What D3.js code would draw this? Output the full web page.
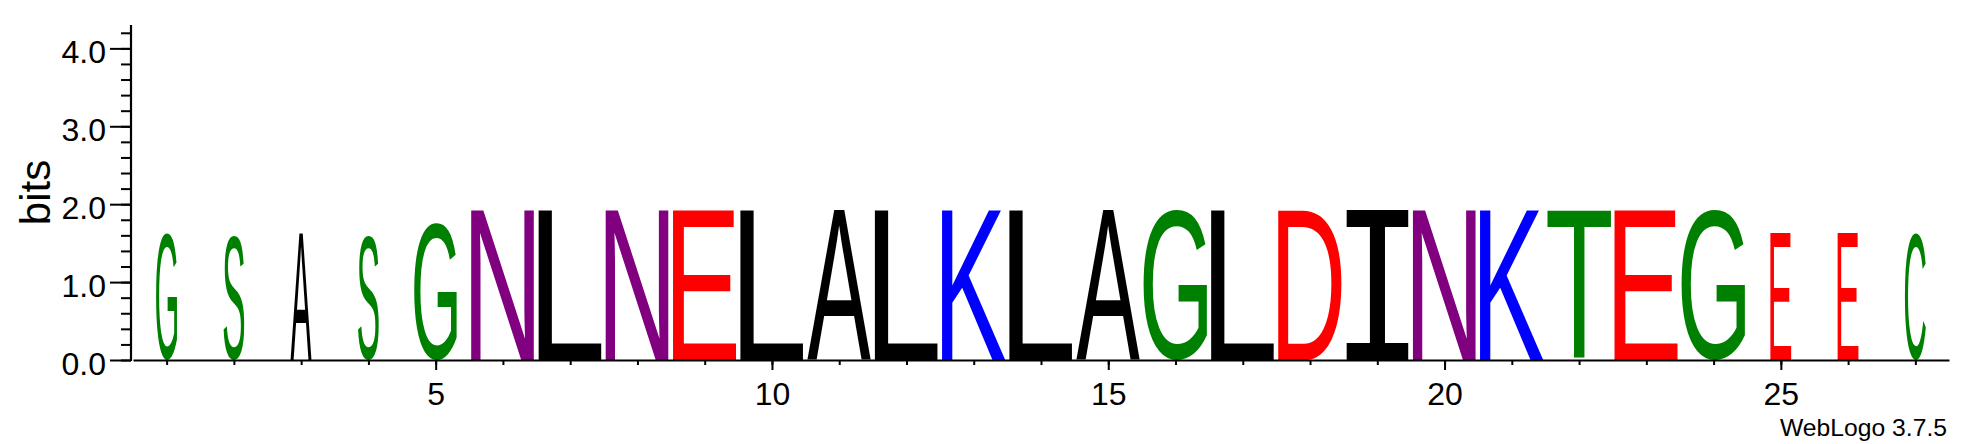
<!DOCTYPE html>
<html><head><meta charset="utf-8">
<script src="https://cdn.jsdelivr.net/npm/d3@7"></script>
<style>html,body{margin:0;padding:0;background:#fff;} svg{display:block;}</style>
</head><body>
<svg id="chart" width="1973" height="444"></svg>
<script>
// ---- data ----
const positions = [1,2,3,4,5,6,7,8,9,10,11,12,13,14,15,16,17,18,19,20,21,22,23,24,25,26,27];
const residues  = ["G","S","A","S","G","N","L","N","E","L","A","L","K","L","A","G","L","D","I","N","K","T","E","G","E","E","C"];
const bits      = [1.62,1.62,1.62,1.62,1.76,1.92,1.92,1.92,1.92,1.92,1.92,1.92,1.92,1.92,1.92,1.92,1.92,1.92,1.92,1.92,1.92,1.92,1.92,1.92,1.62,1.62,1.62];
const occupancy = [0.33,0.33,0.33,0.33,0.67,1,1,1,1,1,1,1,1,1,1,1,1,1,1,1,1,1,1,1,0.33,0.33,0.33];
const xTickLabels = ["5","10","15","20","25"];
const yTickLabels = ["0.0","1.0","2.0","3.0","4.0"];
const yLabel = "bits";
const credit = "WebLogo 3.7.5";

// ---- styles ----
const colorOf = {G:"#008000",S:"#008000",T:"#008000",Y:"#008000",C:"#008000",
                 N:"#800080",Q:"#800080",K:"#0000ff",R:"#0000ff",H:"#0000ff",
                 D:"#ff0000",E:"#ff0000",A:"#000000",V:"#000000",L:"#000000",
                 I:"#000000",P:"#000000",W:"#000000",F:"#000000",M:"#000000"};
const FONT = "'Liberation Sans', Arial, Helvetica, sans-serif";
const glyphFont = ch => ch === "I" ? "'DejaVu Sans Mono'" : "'Liberation Sans'";

const svg = d3.select("#chart");
const x = d3.scaleLinear().domain([0.5, 27.5]).range([133, 1949]);
const y = d3.scaleLinear().domain([0, 4.3]).range([360, 25]);

// ---- glyph metrics ----
const ctx = document.createElement("canvas").getContext("2d");
function metrics(ch){
  ctx.font = "100px " + glyphFont(ch);
  const m = ctx.measureText(ch);
  return {L:m.actualBoundingBoxLeft, R:m.actualBoundingBoxRight,
          A:m.actualBoundingBoxAscent, D:m.actualBoundingBoxDescent};
}

const colW = x(1.5) - x(0.5);
const stacks = positions.map((p,i)=>({pos:p, ch:residues[i], h:bits[i], occ:occupancy[i]}));

svg.append("g").selectAll("text").data(stacks).join("text")
  .text(d=>d.ch)
  .attr("font-family", d=>glyphFont(d.ch))
  .attr("font-size", 100)
  .attr("fill", d=>colorOf[d.ch])
  .attr("transform", d=>{
    const m = metrics(d.ch);
    const w = colW*0.95*d.occ;
    const rx = x(d.pos) - w/2, ry = y(d.h), rh = y(0) - y(d.h);
    const gw = m.L + m.R, gh = m.A + m.D;
    return `translate(${rx},${ry}) scale(${w/gw},${rh/gh}) translate(${m.L},${m.A})`;
  });

// ---- y axis ----
const minorY = [];
for (let k = 0; k <= 21; k++) minorY.push(k/5);
const gyMinor = svg.append("g").attr("transform","translate(131,0)")
  .call(d3.axisLeft(y).tickValues(minorY).tickSize(10).tickSizeOuter(0).tickFormat(""));
const gy = svg.append("g").attr("transform","translate(131,0)")
  .call(d3.axisLeft(y).tickValues(yTickLabels.map(Number)).tickSize(21).tickSizeOuter(0).tickPadding(4)
        .tickFormat((d,i)=>yTickLabels[i]));
gy.selectAll("text").attr("dy","0.45em").attr("font-size",32).attr("font-family",FONT).attr("fill","#000");
[gy, gyMinor].forEach(g=>{
  g.selectAll("line").attr("stroke","#000").attr("stroke-width",2);
  g.select(".domain").attr("stroke","#000").attr("stroke-width",2.2);
});
gyMinor.select(".domain").attr("d", `M0,${y(0)+1}V${y(4.3)}`);
gy.select(".domain").remove();

// ---- x axis ----
const gxMinor = svg.append("g").attr("transform",`translate(0,${y(0)})`)
  .call(d3.axisBottom(x).tickValues(positions).tickSize(5).tickSizeOuter(0).tickFormat(""));
const gx = svg.append("g").attr("transform",`translate(0,${y(0)})`)
  .call(d3.axisBottom(x).tickValues(xTickLabels.map(Number)).tickSize(10).tickSizeOuter(0)
        .tickFormat((d,i)=>xTickLabels[i]));
gx.selectAll("text").attr("y",45).attr("dy",null).attr("font-size",32).attr("font-family",FONT).attr("fill","#000");
[gx, gxMinor].forEach(g=>{
  g.selectAll("line").attr("stroke","#000").attr("stroke-width",2);
  g.select(".domain").attr("stroke","#000").attr("stroke-width",2.2);
});
gx.select(".domain").remove();

// ---- labels ----
svg.append("text")
  .attr("transform",`translate(50,${(y(0)+y(4.3))/2}) rotate(-90)`)
  .attr("text-anchor","middle").attr("font-family",FONT).attr("font-size",42)
  .text(yLabel);

svg.append("text")
  .attr("x", x(27.5) - 2).attr("y", 436)
  .attr("text-anchor","end").attr("font-family",FONT).attr("font-size",24)
  .attr("textLength",167).attr("lengthAdjust","spacingAndGlyphs")
  .text(credit);
</script>
</body></html>
